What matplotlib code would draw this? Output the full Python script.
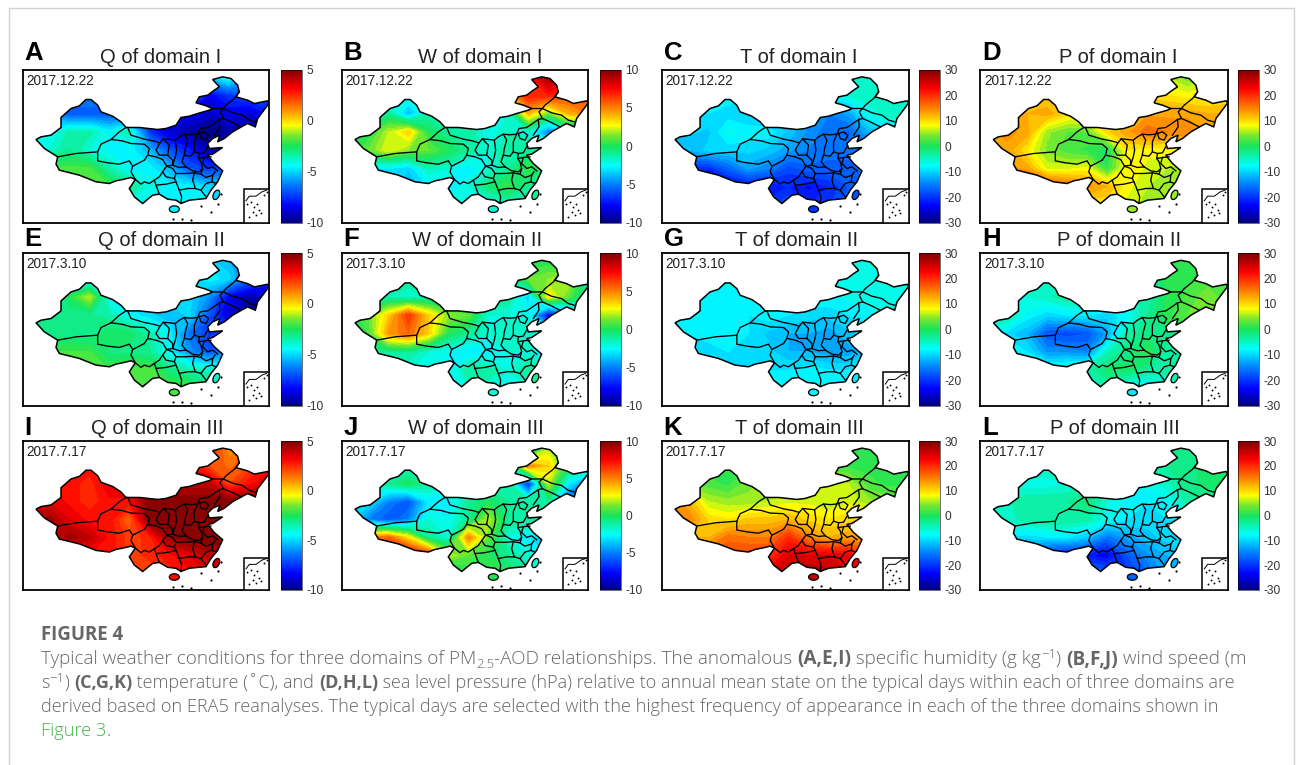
import numpy as np
import matplotlib
matplotlib.use('Agg')
import matplotlib.pyplot as plt
from matplotlib.colors import LinearSegmentedColormap
from matplotlib.patches import Polygon, Rectangle, Ellipse

W, H = 1296, 765
plt.rcParams['font.family'] = ['Liberation Sans', 'DejaVu Sans']
plt.rcParams['axes.unicode_minus'] = False

#---------------------- GRID OF THE FIELDS (map units)
grid_x = [40, 100, 160, 220, 280, 340, 400, 460, 520, 580, 640, 700, 760]
grid_y = [110, 165, 220, 275, 330, 385, 440, 495]

#---------------------- VALUES
q_dom1 = [[-5, -5, -5, -5, -5, -5, -5, -5, -5, -5, -4, -6, -7],
          [-6, -6, -6, -6, -6, -6, -6, -6, -6, -8.5, -7.5, -7, -7],
          [-6, -6, -7, -7, -7, -7, -8, -8, -8.5, -9, -8.5, -9, -8],
          [-4, -4.5, -3.5, -3.5, -4.5, -3.5, -7.5, -9, -9.5, -10, -9.5, -9.5, -9],
          [-4, -4, -3.2, -4, -4.5, -4.5, -5.5, -7, -8, -9.5, -9, -9, -9],
          [-2.5, -2, -2, -2, -3.5, -4.5, -4.5, -5.5, -7, -7.5, -7, -7, -7],
          [-3, -3, -2, -2, -2, -3, -4.2, -4.5, -4.5, -5, -5, -5, -5],
          [-4.5, -4.5, -4.5, -4.5, -4.5, -4.5, -4.5, -4.5, -4.5, -4.5, -4.5, -4.5, -4.5]]
w_dom1 = [[-2, -2, -2, -2, -2, -2, -2, -2, -2, 7, 9.5, 8, 7],
          [-2, -2, -2, -2, -2, -2, -2, -2, 4, 7, 7, 6, 6],
          [-2, -2, -1, -4, -1.5, -1.5, -1.5, -2, -2, 4, 1, 4, 5],
          [0, 0, 2, 3.5, 0, -1, -1, -2.5, -1.5, -2, -5, -3, -3],
          [0, 1, 2.5, 1.5, 1, 0, -1, -2, -1, -1, -1, -1, -1],
          [-3, -3, -3, -3.5, -1.5, -2, -3, -2, -1, 0.5, -1, -1, -1],
          [-3, -3, -3, -4, -3, -3, -2, -0.5, 0.5, -1, -1, -1, -1],
          [-2, -2, -2, -2, -2, -2, -2, -2.5, -2, -1.5, -1.5, -1.5, -1.5]]
t_dom1 = [[-6, -6, -6, -6, -6, -6, -6, -6, -6, -6, -5, -5, -5],
          [-8, -8, -8, -8, -8, -8, -8, -8, -8, -6, -5, -5, -5],
          [-10, -10, -9, -10, -11, -12, -12, -13, -15, -13, -7, -5, -5],
          [-10, -10, -11, -7, -8, -8, -11, -14, -16, -17, -12, -10, -10],
          [-12, -12, -10, -10, -10, -11, -13, -15, -16, -16, -16, -14, -14],
          [-14, -20, -21, -17, -13, -15, -19, -17, -17, -17, -16, -15, -15],
          [-20, -21, -24, -24, -23, -23, -21, -23, -21, -18, -16, -15, -15],
          [-20, -20, -20, -20, -20, -20, -18, -21, -20, -16, -16, -16, -16]]
p_dom1 = [[9, 9, 9, 9, 9, 9, 9, 9, 9, 6, 3, 7, 7],
          [10, 10, 10, 10, 10, 10, 10, 10, 10, 9, 8, 8, 9],
          [13, 13, 12, 13, 10, 9, 10, 12, 13, 13, 13, 12, 12],
          [13, 14, 13, 5, 3, 3, 10, 13, 16, 15, 15, 13, 13],
          [13, 13, 9, 4, 2, 1, -1, 9, 8, 8, 8, 8, 8],
          [10, 14, 13, 7, 7, 8, 1, 9, 7, 6, 5, 5, 5],
          [15, 17, 19, 19, 17, 14, 12, 8, 6, 5, 3, 3, 3],
          [9, 9, 9, 9, 9, 9, 9, 7, 5, 3, 3, 3, 3]]
q_dom2 = [[-4.5, -4.5, -4.5, -4.5, -4.5, -4.5, -4.5, -4.5, -4.5, -5, -5.5, -6, -6],
          [-5, -5, -5, -5, -5, -5, -5, -5, -5, -4.5, -5, -6.5, -7.5],
          [-5, -4, -2.5, -1, -4.5, -5, -5, -5, -5, -6, -8.5, -9.5, -9],
          [-4, -3.2, -3.2, -3.2, -3.5, -4.5, -5, -5.5, -5, -7, -9, -9.5, -9],
          [-3, -3, -3.2, -3.2, -2.6, -2.6, -3.5, -4.5, -6.5, -7.5, -7, -7, -7],
          [-2.8, -2.1, -2.1, -2.1, -3, -3, -3.2, -4.5, -6, -7, -6, -6, -6],
          [-2.1, -2.1, -2.1, -2.1, -2.1, -1.9, -1.9, -3, -3.5, -3.8, -3.8, -3.8, -3.8],
          [-1.9, -1.9, -1.9, -1.9, -1.9, -1.9, -1.9, -1.9, -2, -3, -3, -3, -3]]
w_dom2 = [[-1, -1, -1, -1, -1, -1, -1, -1, -1, 0, 0, -1, -1],
          [-1, -1, -1, -1, -1, -1, -1, -1, -1, 1, 1.5, 2, -1],
          [-2, -2, -1.5, -2, -1.5, -1.5, -1.5, -1, -1, -3.5, 3, 1, -1.5],
          [0, 1, 3.5, 6.5, 3.5, 1.5, 1, -2, -2, -2.5, -8, -5, -2],
          [0, 0.5, 4.5, 5.5, 3.5, 0, -1, -2, -1.5, -1.5, -1.5, -2, -2],
          [-1, -1, -1, -1, -2, -2.5, -3, -3, -2, -2, -4, -2, -2],
          [-2, -2, -2, -2, -2, -3, -1, -1, -2, -1, -1, -1, -1],
          [-2, -2, -2, -2, -2, -2, -2, -2, -2, -2, -2, -2, -2]]
t_dom2 = [[-6, -6, -6, -6, -6, -6, -6, -6, -6, -7, -6, -6, -6],
          [-7, -7, -7, -7, -7, -7, -7, -7, -7, -6, -6, -6, -6],
          [-8, -8, -8, -8, -8, -8, -8, -8, -8, -7, -7, -7, -7],
          [-8, -8, -9, -8, -9, -8, -9, -10, -10, -9, -8, -7, -7],
          [-8, -9, -8, -8, -9, -11, -12, -12, -13, -11, -10, -9, -9],
          [-9, -10, -10, -9, -9, -10, -12, -12, -13, -13, -11, -10, -10],
          [-10, -11, -11, -10, -9, -9, -9, -8, -9, -9, -8, -8, -8],
          [-8, -8, -8, -8, -8, -8, -8, -8, -8, -7, -7, -7, -7]]
p_dom2 = [[-3, -3, -3, -3, -3, -3, -3, -3, -3, 1, 1, 1, 1],
          [-5, -5, -5, -5, -5, -5, -5, -5, -5, 1, 1, 2, 2],
          [-6, -6, -6, -5, -3, -3, -4, -5, -4, 0, 2, 4, 2],
          [-2, -3, -8, -10, -9, -9, -10, -8, -3, 1, 3, 4, 2],
          [-8, -10, -12, -18, -19, -18, -13, -4, -2, -2, -1, -1, -1],
          [-5, -7, -9, -14, -14, -15, -5, -2, 1, -4, -4, -4, -4],
          [-6, -6, -6, -6, -5, -4, -1, -1, -3, -4, -5, -5, -5],
          [-6, -6, -6, -6, -6, -6, -5, -8, -9, -6, -6, -6, -6]]
q_dom3 = [[3, 3, 3, 3, 3, 3, 3, 3, 3, 3, 0.8, 2, 2],
          [3, 3, 3, 3, 3, 3, 3, 3, 3, 2, 1.5, 2, 3],
          [3, 3, 3, 2.5, 3.5, 3.5, 3.5, 4, 4, 4, 2, 3, 3.5],
          [3.5, 3.5, 3, 2.5, 3, 3, 5, 5, 5, 5, 5, 5, 5],
          [4, 4.5, 3.5, 3, 3, 1.5, 5, 5, 5, 5, 5, 5, 5],
          [3.5, 3.5, 4.5, 4, 3, 2.2, 2.5, 4.5, 5, 5, 5, 5, 5],
          [3, 3, 3, 3, 3, 2.2, 2.5, 3, 3.5, 4, 4, 4, 4],
          [2, 2, 2, 2, 2, 2, 2, 2.5, 3, 3.5, 3.5, 3.5, 3.5]]
w_dom3 = [[-1, -1, -1, -1, -1, -1, -1, -1, -1, -3, 2, 0, 0],
          [-2, -2, -2, -2, -2, -2, -2, -2, -2, 5, 3.5, 0, -1],
          [-2, -2, -1, 0, -1, -2, -2, -1.5, -1, -7, 2, -3, -5],
          [-3, -3, -5, -6, -3, -3, -1, 0, -1, -1, -1, -6, -4],
          [-3, -5, -6, -5, -2, -2.5, -1, 2, -1, -1, -2, -2, -2],
          [2, 5, 5.5, 3, -1, -2, 5, 1, -2, -3, -3, -3, -3],
          [5, 6, 8, 8, 7, 2, 1, 0, -1, -2, -3, -3, -3],
          [-1, -1, -1, -1, -1, -1, 0, 0.5, 0, -1, -1, -1, -1]]
t_dom3 = [[0, 0, 0, 0, 0, 0, 0, 0, 0, 1, 1, 1, 1],
          [1, 1, 1, 1, 1, 1, 1, 1, 1, 1, 1, 1, 1],
          [4, 4, 2, 1, 4, 5, 5, 6, 8, 6, 2, 1, 1],
          [14, 12, 6, 5, 5, 6, 7, 7, 6, 7, 5, 4, 4],
          [16, 15, 10, 9, 11, 11, 12, 10, 9, 10, 11, 11, 11],
          [12, 12, 12, 16, 15, 15, 20, 15, 12, 13, 13, 13, 13],
          [14, 14, 17, 18, 19, 19, 24, 24, 24, 23, 18, 18, 18],
          [24, 24, 24, 24, 24, 24, 26, 27, 26, 24, 24, 24, 24]]
p_dom3 = [[-2, -2, -2, -2, -2, -2, -2, -2, -2, -3, -2, -1, -1],
          [-4, -4, -4, -4, -4, -4, -4, -4, -4, -3, -2, -1, -1],
          [-7, -7, -7, -7, -6, -5, -6, -7, -7, -5, -2, -1, -1],
          [-5, -5, -3, -3, -3, -1, -6, -8, -9, -8, -4, -3, -3],
          [-7, -5, -4, -3, -3, -4, -7, -9, -10, -9, -9, -9, -9],
          [-9, -9, -10, -9, -9, -11, -16, -13, -11, -10, -9, -8, -8],
          [-14, -15, -17, -21, -22, -22, -24, -18, -14, -12, -10, -9, -9],
          [-15, -15, -15, -15, -15, -15, -17, -20, -17, -12, -12, -12, -12]]

fields = [q_dom1, w_dom1, t_dom1, p_dom1,
          q_dom2, w_dom2, t_dom2, p_dom2,
          q_dom3, w_dom3, t_dom3, p_dom3]

letters = ['A', 'B', 'C', 'D', 'E', 'F', 'G', 'H', 'I', 'J', 'K', 'L']
titles = ['Q of domain I', 'W of domain I', 'T of domain I', 'P of domain I',
          'Q of domain II', 'W of domain II', 'T of domain II', 'P of domain II',
          'Q of domain III', 'W of domain III', 'T of domain III', 'P of domain III']
dates = ['2017.12.22', '2017.3.10', '2017.7.17']

q_ticks = [-10, -5, 0, 5]
w_ticks = [-10, -5, 0, 5, 10]
tp_ticks = [-30, -20, -10, 0, 10, 20, 30]
col_ticks = [q_ticks, w_ticks, tp_ticks, tp_ticks]

#---------------------- MAP OUTLINES
china = [(60,298),(75,290),(105,285),(122,272),(135,262),(135,232),(165,205),(190,197),(210,178),(225,178),
         (245,195),(255,215),(290,228),(315,245),(330,262),(370,262),(425,268),(450,265),(480,255),
         (495,232),(520,228),(545,220),(580,210),(590,205),(565,195),(540,188),(550,170),(575,165),(595,150),(610,140),
         (590,118),(620,110),(645,115),(665,135),(670,155),(660,170),(695,180),(715,190),(755,182),
         (760,188),(740,215),(725,235),(718,260),(695,250),(680,258),(650,275),(625,295),(605,305),
         (612,285),(590,295),(575,310),(580,325),(620,322),(590,342),(575,345),(595,370),(620,392),
         (605,425),(585,450),(570,475),(520,480),(495,490),(480,480),(455,477),(430,462),(410,465),
         (380,490),(355,470),(340,445),(358,418),(345,412),(320,418),(300,422),(280,430),(240,425),(190,405),(130,390),
         (120,372),(125,350),(85,325)]
borders = [[(125,350),(180,340),(245,335),(245,362),(275,368),(310,372),(340,362),(350,378),(362,372),(385,360)],
           [(330,262),(310,275),(285,298),(255,312),(245,335)],
           [(285,298),(318,302),(345,310),(385,312),(400,325),(395,345),(385,360)],
           [(335,262),(345,285),(385,297),(412,302),(432,308),(442,296),(462,298),(478,300),(490,290),(505,282),(525,284),(545,282),(552,265),(575,262),(590,252),(610,238),(622,235),(612,215),(622,205),(590,205)],
           [(350,378),(345,395),(358,418)],
           [(395,345),(420,350),(440,358),(452,378)],
           [(432,308),(420,330),(430,345),(455,345),(470,360),(470,375),(452,378)],
           [(442,296),(460,315),(455,345)],
           [(478,300),(482,330),(478,350),(470,375)],
           [(505,282),(515,300),(508,325),(505,345),(498,365),(510,380)],
           [(470,375),(490,382),(510,380)],
           [(545,282),(535,305),(535,335),(525,348),(505,345)],
           [(535,335),(550,340),(565,338),(575,320)],
           [(550,280),(565,275),(578,285),(570,300),(555,295),(550,280)],
           [(550,340),(548,355),(565,352),(585,350)],
           [(510,380),(530,392),(550,395),(560,385),(555,365),(548,355)],
           [(565,352),(560,370),(575,385),(590,380),(605,392)],
           [(560,385),(555,402),(570,412),(590,405),(597,395)],
           [(590,405),(588,425),(600,430)],
           [(588,425),(570,430),(555,450),(570,470)],
           [(555,402),(535,398),(510,400),(480,400),(470,385),(452,378)],
           [(480,400),(475,415),(450,410),(440,395),(452,378)],
           [(440,395),(430,410),(415,420),(400,430),(385,425),(375,432),(358,418)],
           [(415,420),(420,435),(450,432),(480,425),(475,415)],
           [(535,398),(530,420),(538,445)],
           [(480,425),(490,450),(515,445),(538,445),(555,450)],
           [(490,450),(497,470),(495,488)],
           [(420,435),(430,462)],
           [(670,155),(655,175),(630,195),(622,205),(650,218),(680,225),(700,240),(718,245)],
           [(622,235),(645,245),(675,260)],
           [(610,238),(612,260),(595,285)]]
hainan = (475, 507, 30, 20)
taiwan = (601, 464, 18, 30, 25)
sea_specks_x = [470, 498, 525, 555, 585, 605, 615]
sea_specks_y = [537, 535, 540, 496, 515, 490, 460]
inset_coast = [(690,482),(700,468),(720,468),(738,455),(752,450)]
inset_specks_x = [694, 705, 713, 722, 710, 730, 745, 700, 720, 735, 752]
inset_specks_y = [492, 485, 500, 490, 515, 510, 465, 530, 525, 518, 455]

#---------------------- COLOUR MAP
bar_stops = [0, 0.11, 0.25, 0.37, 0.5, 0.57, 0.635, 0.75, 0.875, 1]
bar_colors = ['#00007f', '#0000ff', '#0080ff', '#00ffff', '#18e55a',
              '#78e82e', '#ffff00', '#ff8000', '#ff0000', '#7f0000']
cmap = LinearSegmentedColormap.from_list('bar', list(zip(bar_stops, bar_colors)))

#---------------------- PANEL LAYOUT (pixels)
col_box = [(22.7, 269.3), (341.7, 588.3), (661.7, 908.7), (980.0, 1227.7)]
col_bar = [(281.0, 302.0), (600.0, 621.0), (919.3, 940.3), (1238.3, 1259.3)]
row_box = [(69.5, 222.5), (253.0, 405.7), (441.0, 590.0)]
letter_base = [60, 246, 435]
title_base = [62.5, 246, 434]
title_xc = [161, 480, 799, 1118, 161, 477, 797, 1119, 157, 476, 799, 1115]


def pixel_axes(x0, x1, y0, y1):
    return fig.add_axes([x0/W, 1-y1/H, (x1-x0)/W, (y1-y0)/H])


fig = plt.figure(figsize=(W/100, H/100), dpi=100)

# page layer in pixel coordinates
page = fig.add_axes([0, 0, 1, 1], zorder=-1)
page.set_xlim(0, W); page.set_ylim(H, 0); page.axis('off')
page.plot([9.3, 9.3, 1294, 1294], [H, 8, 8, H], color='#d2d2d2', lw=1.0)

gx, gy = np.meshgrid(grid_x, grid_y)

for n in range(12):
    r, c = divmod(n, 4)
    ticks = col_ticks[c]
    vmin, vmax = ticks[0], ticks[-1]
    x0, x1 = col_box[c]
    y0, y1 = row_box[r]

    ax = pixel_axes(x0, x1, y0, y1)
    ax.set_xlim(20, 760); ax.set_ylim(547, 88)
    ax.set_xticks([]); ax.set_yticks([])
    for s in ax.spines.values():
        s.set_linewidth(1.3)

    levels = np.linspace(vmin, vmax, 41)
    cs = ax.contourf(gx, gy, np.array(fields[n], dtype=float), levels=levels, cmap=cmap,
                     vmin=vmin, vmax=vmax, extend='both', antialiased=False)
    shape = Polygon(china, closed=True, transform=ax.transData, facecolor='none')
    cs.set_clip_path(shape)
    ax.add_patch(Polygon(china, closed=True, facecolor='none', edgecolor='k', lw=1.1, zorder=5))
    for b in borders:
        ax.plot(*zip(*b), color='k', lw=0.95, zorder=5)

    # Hainan and Taiwan take the colour of the nearest grid value
    norm = plt.Normalize(vmin, vmax)
    ax.add_patch(Ellipse(hainan[:2], hainan[2], hainan[3], fc=cmap(norm(fields[n][7][8])), ec='k', lw=0.9, zorder=5))
    ax.add_patch(Ellipse(taiwan[:2], taiwan[2], taiwan[3], angle=taiwan[4], fc=cmap(norm(fields[n][6][9])), ec='k', lw=0.9, zorder=5))
    ax.scatter(sea_specks_x, sea_specks_y, s=2.5, color='k', lw=0, zorder=5)

    # South China Sea inset
    ax.add_patch(Rectangle((684, 447), 76, 100, fc='white', ec='k', lw=1.1, zorder=6))
    ax.plot(*zip(*inset_coast), color='k', lw=0.7, zorder=7)
    ax.scatter(inset_specks_x, inset_specks_y, s=1.8, color='k', lw=0, zorder=7)

    ax.text(32, 133, dates[r], fontsize=9.8, color='#222222', va='baseline', ha='left', zorder=8)
    page.text(x0+2, letter_base[r], letters[n], fontsize=18.5, fontweight='bold', color='k', va='baseline', ha='left')
    page.text(title_xc[n], title_base[r], titles[n], fontsize=14.5, color='#222222', va='baseline', ha='center')

    # colour bar
    bx0, bx1 = col_bar[c]
    cax = pixel_axes(bx0, bx1, y0, y1)
    sm = plt.cm.ScalarMappable(norm=norm, cmap=cmap)
    cb = fig.colorbar(sm, cax=cax, ticks=ticks)
    cb.ax.set_yticklabels([str(t) for t in ticks])
    cb.ax.tick_params(length=0, labelsize=8.6, labelcolor='#333333', pad=3)
    cb.outline.set_linewidth(0.4)

#---------------------- CAPTION
cap_color = '#666666'
cap_font = ['Open Sans', 'DejaVu Sans']
cap_sizes = [13.6, 12.95, 13.05, 13.05]
green = '#3fb54a'

line1 = [('Typical weather conditions for three domains of PM', 'n'), ('2.5', 'sub'),
         ('-AOD relationships. The anomalous ', 'n'), ('(A,E,I)', 'b'), (' specific humidity (g kg', 'n'),
         ('\u22121', 'sup'), (') ', 'n'), ('(B,F,J)', 'b'), (' wind speed (m', 'n')]
line2 = [('s', 'n'), ('\u22121', 'sup'), (') ', 'n'), ('(C,G,K)', 'b'), (' temperature (\u02daC), and ', 'n'),
         ('(D,H,L)', 'b'), (' sea level pressure (hPa) relative to annual mean state on the typical days within each of three domains are', 'n')]
line3 = [('derived based on ERA5 reanalyses. The typical days are selected with the highest frequency of appearance in each of the three domains shown in', 'n')]
line4 = [('Figure 3', 'g'), ('.', 'n')]
cap_lines = [line1, line2, line3, line4]
cap_y = [664, 688, 712, 736]


def put_runs(x, y, runs, base):
    rend = fig.canvas.get_renderer()
    for txt, kind in runs:
        size, dy, weight, col = base, 0, 'light', cap_color
        if kind == 'b':
            weight = 'bold'
        elif kind == 'sub':
            size, dy = 9.5, 4
        elif kind == 'sup':
            size, dy = 9.5, -6
        elif kind == 'g':
            col = green
        t = page.text(x, y+dy, txt, family=cap_font, fontsize=size, fontweight=weight, color=col, va='baseline', ha='left')
        x = x + t.get_window_extent(rend).width


page.text(41, 640, 'FIGURE 4', family=cap_font, fontsize=13.4, fontweight='bold', color=cap_color, va='baseline', ha='left')
for yy, runs, sz in zip(cap_y, cap_lines, cap_sizes):
    put_runs(41, yy, runs, sz)

plt.savefig('out.png', dpi=100)
